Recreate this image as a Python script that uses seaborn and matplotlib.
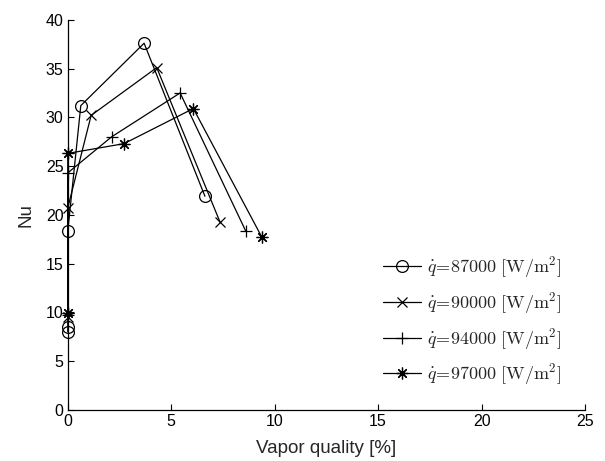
import numpy as np
import pandas as pd
import matplotlib
matplotlib.use("Agg")
import matplotlib.pyplot as plt
import seaborn as sns

# values
labels = ["87000", "90000", "94000", "97000"]
x_87 = [0.0, 0.0, 0.0, 0.63, 3.69, 6.63]
nu_87 = [8.0, 8.5, 18.3, 31.2, 37.6, 21.9]
x_90 = [0.0, 0.0, 1.13, 4.30, 7.36]
nu_90 = [9.5, 20.7, 30.2, 35.1, 19.25]
x_94 = [0.0, 0.0, 2.12, 5.43, 8.61]
nu_94 = [9.7, 24.3, 28.0, 32.5, 18.3]
x_97 = [0.0, 0.0, 2.72, 6.07, 9.37]
nu_97 = [9.9, 26.3, 27.3, 30.9, 17.75]

series = {
    "87000": (x_87, nu_87),
    "90000": (x_90, nu_90),
    "94000": (x_94, nu_94),
    "97000": (x_97, nu_97),
}
markers = {"87000": "o", "90000": "x", "94000": "+", "97000": (8, 2, 0)}
msizes = {"87000": 8.5, "90000": 6.5, "94000": 9, "97000": 8.5}

sns.set_theme(style="white")
plt.rcParams["font.family"] = ["Liberation Sans", "DejaVu Sans"]
plt.rcParams["mathtext.fontset"] = "cm"
plt.rcParams["xtick.direction"] = "in"
plt.rcParams["ytick.direction"] = "in"

fig = plt.figure(figsize=(6.05, 4.61), dpi=100)
ax = fig.add_axes([0.112, 0.111, 0.855, 0.846])

for name in labels:
    xs, ys = series[name]
    df = pd.DataFrame({"x": xs, "nu": ys})
    # estimator=None keeps repeated x=0 points instead of averaging them
    sns.lineplot(
        data=df, x="x", y="nu", ax=ax, sort=False, estimator=None,
        color="black", linewidth=0.9, marker=markers[name],
        markersize=msizes[name], markerfacecolor="none",
        markeredgecolor="black", markeredgewidth=0.9, clip_on=False,
        label=r"$\dot{q}\!=\!\mathrm{" + name + r"\ [W/m^2]}$",
    )

ax.set_xlim(0, 25)
ax.set_ylim(0, 40)
ax.set_xticks(np.arange(0, 26, 5))
ax.set_yticks(np.arange(0, 41, 5))
ax.set_xlabel("Vapor quality [%]", fontsize=13.5, labelpad=8)
ax.set_ylabel("Nu", fontsize=13.5, labelpad=8)
ax.tick_params(axis="both", labelsize=11.5, length=4, width=0.8, pad=3,
               bottom=True, left=True, colors="black")
for side in ["top", "right"]:
    ax.spines[side].set_visible(False)
for side in ["left", "bottom"]:
    ax.spines[side].set_color("black")
    ax.spines[side].set_linewidth(0.9)

leg = ax.legend(loc="center right", bbox_to_anchor=(0.985, 0.228), frameon=False,
                fontsize=13, handlelength=2.1, labelspacing=0.55,
                handletextpad=0.3)

fig.savefig("out.png", dpi=100)
